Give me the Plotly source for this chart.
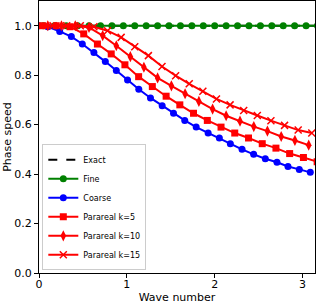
import numpy as np
import plotly.graph_objects as go

# ---- data ----
exact_x = [0.0, 3.1416]
exact_y = [1.0, 1.0]

fine_x = [round(0.05 + 0.13 * k, 3) for k in range(25)]
fine_y = [1.0] * 25

coarse_x = [0.0, 0.10, 0.236, 0.368, 0.493, 0.625, 0.755, 0.88, 1.008, 1.136, 1.269,
            1.402, 1.531, 1.659, 1.789, 1.925, 2.053, 2.178, 2.311, 2.443, 2.576,
            2.709, 2.834, 2.963, 3.088]
coarse_y = [1.0, 0.996, 0.977, 0.956, 0.926, 0.892, 0.855, 0.819, 0.781, 0.743, 0.708,
            0.676, 0.646, 0.617, 0.590, 0.566, 0.546, 0.523, 0.500, 0.480, 0.462,
            0.448, 0.431, 0.419, 0.407]

k5_x = [0.04, 0.196, 0.353, 0.509, 0.665, 0.822, 0.978, 1.134, 1.29, 1.447, 1.603,
        1.759, 1.916, 2.072, 2.228, 2.385, 2.541, 2.697, 2.853, 3.01, 3.166]
k5_y = [1.0, 1.0, 0.996, 0.967, 0.926, 0.886, 0.842, 0.794, 0.754, 0.715, 0.680,
        0.646, 0.617, 0.590, 0.566, 0.546, 0.523, 0.505, 0.483, 0.467, 0.450]

k10_x = [0.1, 0.256, 0.413, 0.569, 0.725, 0.88, 1.04, 1.194, 1.35, 1.507, 1.663,
         1.82, 1.976, 2.13, 2.288, 2.445, 2.60, 2.757, 2.913, 3.07]
k10_y = [1.0, 1.0, 1.0, 0.993, 0.960, 0.919, 0.875, 0.832, 0.789, 0.757, 0.725,
         0.694, 0.663, 0.636, 0.614, 0.592, 0.574, 0.552, 0.536, 0.517]

k15_x = [0.16, 0.315, 0.47, 0.625, 0.78, 0.935, 1.09, 1.245, 1.40, 1.555, 1.71,
         1.865, 2.02, 2.175, 2.33, 2.485, 2.64, 2.795, 2.95, 3.105]
k15_y = [1.0, 1.0, 1.0, 0.996, 0.980, 0.953, 0.915, 0.879, 0.835, 0.798, 0.765,
         0.735, 0.704, 0.680, 0.657, 0.637, 0.616, 0.597, 0.578, 0.566]

x_ticks = [0, 1, 2, 3]
y_ticks = [0.0, 0.2, 0.4, 0.6, 0.8, 1.0]
y_tick_labels = ["0.0", "0.2", "0.4", "0.6", "0.8", "1.0"]

FONT = "DejaVu Sans"
RED = "#ff0000"

fig = go.Figure()
fig.add_trace(go.Scatter(x=exact_x, y=exact_y, mode="lines", name="Exact",
                         line=dict(color="black", width=2, dash="dash")))
fig.add_trace(go.Scatter(x=fine_x, y=fine_y, mode="lines+markers", name="Fine",
                         line=dict(color="#008000", width=2),
                         marker=dict(symbol="circle", size=7, color="#008000")))
fig.add_trace(go.Scatter(x=coarse_x, y=coarse_y, mode="lines+markers", name="Coarse",
                         line=dict(color="#0000ff", width=2),
                         marker=dict(symbol="circle", size=7, color="#0000ff")))
fig.add_trace(go.Scatter(x=k5_x, y=k5_y, mode="lines+markers", name="Parareal k=5",
                         line=dict(color=RED, width=2),
                         marker=dict(symbol="square", size=7, color=RED)))
fig.add_trace(go.Scatter(x=k10_x, y=k10_y, mode="lines+markers", name="Parareal k=10",
                         line=dict(color=RED, width=2),
                         marker=dict(symbol="diamond-tall", size=8, color=RED)))
fig.add_trace(go.Scatter(x=k15_x, y=k15_y, mode="lines+markers", name="Parareal k=15",
                         line=dict(color=RED, width=2),
                         marker=dict(symbol="x-thin", size=7, color=RED,
                                     line=dict(color=RED, width=1.5))))

fig.update_layout(
    width=316, height=304,
    margin=dict(l=39, r=1, t=1, b=31, autoexpand=False),
    paper_bgcolor="white", plot_bgcolor="white",
    font=dict(family=FONT, size=11, color="black"),
    showlegend=True,
    legend=dict(x=0.012, y=0.01, xanchor="left", yanchor="bottom",
                bgcolor="rgba(255,255,255,0.8)", bordercolor="#cccccc", borderwidth=1,
                font=dict(family=FONT, size=8), tracegroupgap=0,
                itemwidth=30),
)
fig.update_xaxes(range=[0, 3.1416], tickvals=x_ticks, ticks="outside", ticklen=4,
                 tickwidth=1, tickcolor="black", showline=True, linecolor="black",
                 linewidth=1, mirror=True, showgrid=False, zeroline=False,
                 automargin=False, ticklabelstandoff=-3,
                 title=dict(text="Wave number", standoff=0, font=dict(size=11)),
                 tickfont=dict(size=11))
fig.update_yaxes(range=[0, 1.1], tickvals=y_ticks, ticktext=y_tick_labels,
                 ticks="outside", ticklen=4, tickwidth=1, tickcolor="black",
                 showline=True, linecolor="black", linewidth=1, mirror=True,
                 showgrid=False, zeroline=False, automargin=False,
                 title=dict(text="Phase speed", standoff=0, font=dict(size=11)),
                 tickfont=dict(size=11))

fig.write_html("out.html", config={"displayModeBar": False},
               post_script="document.body.style.margin='0';document.body.style.overflow='hidden';")
